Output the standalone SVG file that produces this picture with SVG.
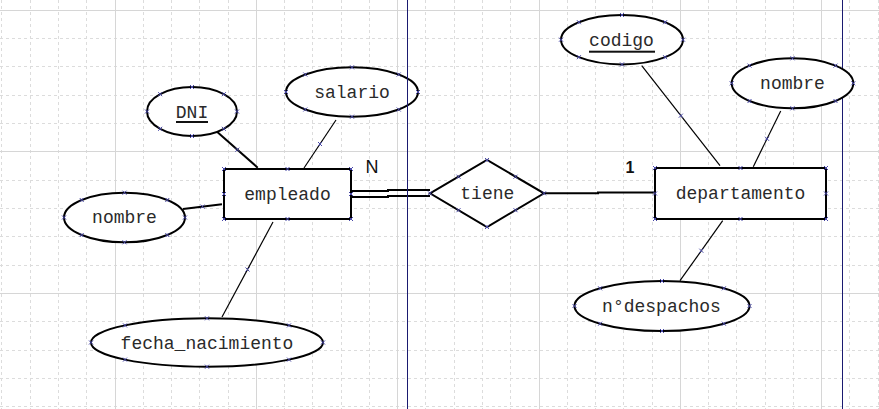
<svg xmlns="http://www.w3.org/2000/svg" xmlns:xlink="http://www.w3.org/1999/xlink" width="879" height="409" viewBox="0 0 879 409">
<style>
.minor{stroke:#dcdcdc;stroke-width:1;stroke-dasharray:3 3;fill:none}
.major{stroke:#d6d6d6;stroke-width:1;fill:none}
.sep{stroke:#1a1a70;stroke-width:1}
.shape{fill:#fff;stroke:#000;stroke-width:2}
.thin{stroke:#000;stroke-width:1.2;fill:none}
.thick{stroke:#000;stroke-width:2;fill:none}
.lbl{font-family:"Liberation Mono","Courier New",monospace;font-size:18px;fill:#2a2a2a;text-anchor:middle}
.card{font-family:"Liberation Sans",Arial,sans-serif;fill:#111;text-anchor:middle}
.ul{fill:#111}
.xm{stroke:#4848a8;stroke-width:1;fill:none}
</style>
<defs>
<path id="xm" class="xm" d="M-2,-2L2,2M-2,2L2,-2"/>
</defs>
<rect width="879" height="409" fill="#fff"/>
<g id="grid">
<path class="minor" d="M1.5,0V409M30.5,0V409M58.5,0V409M86.5,0V409M143.5,0V409M171.5,0V409M199.5,0V409M228.5,0V409M284.5,0V409M312.5,0V409M341.5,0V409M369.5,0V409M425.5,0V409M454.5,0V409M482.5,0V409M510.5,0V409M567.5,0V409M595.5,0V409M623.5,0V409M652.5,0V409M708.5,0V409M736.5,0V409M765.5,0V409M793.5,0V409M849.5,0V409M878.5,0V409M0,38.5H879M0,66.5H879M0,95.5H879M0,123.5H879M0,180.5H879M0,208.5H879M0,236.5H879M0,265.5H879M0,321.5H879M0,350.5H879M0,378.5H879M0,406.5H879"/>
<path class="major" d="M115.5,0V409M256.5,0V409M397.5,0V409M539.5,0V409M680.5,0V409M821.5,0V409M0,10.5H879M0,151.5H879M0,293.5H879"/>
</g>
<line id="sep-right" class="sep" x1="842.5" y1="0" x2="842.5" y2="409"/>
<g id="connectors">
<line class="thick" x1="217" y1="131.7" x2="257.7" y2="167.7"/>
<line class="thin" x1="336" y1="120" x2="304" y2="168"/>
<line class="thick" x1="183" y1="209" x2="222" y2="204.3"/>
<line class="thin" x1="222" y1="317" x2="273" y2="222"/>
<polyline class="thick" points="351,191 388,191 388,190 430,190"/>
<polyline class="thick" points="351,197 388,197 388,196 430,196"/>
<polyline class="thick" points="544,193.3 598,193.3 598,192.5 655,192.5"/>
<line class="thin" x1="641.7" y1="65.7" x2="720" y2="165.7"/>
<line class="thin" x1="780.7" y1="111" x2="753.3" y2="166.7"/>
<line class="thin" x1="680" y1="280.7" x2="722.7" y2="220.7"/>
<text class="card" x="372" y="173.3" font-size="18">N</text>
<text class="card" x="630" y="173" font-size="16" font-weight="bold">1</text>
<use href="#xm" x="237.3" y="149.7"/><use href="#xm" x="320" y="144"/><use href="#xm" x="202.5" y="206.6"/><use href="#xm" x="247.5" y="269.5"/><use href="#xm" x="680.8" y="115.7"/><use href="#xm" x="767" y="138.8"/><use href="#xm" x="701.3" y="250.7"/>
</g>
<g id="empleado">
<rect class="shape" x="224" y="169" width="127" height="50"/>
<text class="lbl" x="287.5" y="199.5">empleado</text>
<use href="#xm" x="224" y="169"/><use href="#xm" x="287.5" y="169"/><use href="#xm" x="351" y="169"/><use href="#xm" x="224" y="194"/><use href="#xm" x="351" y="194"/><use href="#xm" x="224" y="219"/><use href="#xm" x="287.5" y="219"/><use href="#xm" x="351" y="219"/>
</g>
<g id="dni">
<ellipse class="shape" cx="192" cy="111.5" rx="45" ry="24.5"/>
<text class="lbl" x="192" y="117.5">DNI</text>
<rect class="ul" x="176" y="121" width="32" height="2"/>
<use href="#xm" x="147" y="111.5"/><use href="#xm" x="237" y="111.5"/><use href="#xm" x="192" y="87"/><use href="#xm" x="192" y="136"/><use href="#xm" x="160.2" y="94.2"/><use href="#xm" x="223.8" y="94.2"/><use href="#xm" x="160.2" y="128.8"/><use href="#xm" x="223.8" y="128.8"/>
</g>
<g id="salario">
<ellipse class="shape" cx="352" cy="92" rx="66" ry="24.7"/>
<text class="lbl" x="352" y="97.5">salario</text>
<use href="#xm" x="286" y="92"/><use href="#xm" x="418" y="92"/><use href="#xm" x="352" y="67.3"/><use href="#xm" x="352" y="116.7"/><use href="#xm" x="305.3" y="74.5"/><use href="#xm" x="398.7" y="74.5"/><use href="#xm" x="305.3" y="109.5"/><use href="#xm" x="398.7" y="109.5"/>
</g>
<g id="nombre-empleado">
<ellipse class="shape" cx="124.5" cy="217.5" rx="60.5" ry="24.8"/>
<text class="lbl" x="124.5" y="222.5">nombre</text>
<use href="#xm" x="64" y="217.5"/><use href="#xm" x="185" y="217.5"/><use href="#xm" x="124.5" y="192.7"/><use href="#xm" x="124.5" y="242.3"/><use href="#xm" x="81.7" y="200"/><use href="#xm" x="167.3" y="200"/><use href="#xm" x="81.7" y="235"/><use href="#xm" x="167.3" y="235"/>
</g>
<g id="fecha_nacimiento">
<ellipse class="shape" cx="207" cy="342.5" rx="116" ry="24.2"/>
<text class="lbl" x="207" y="348.5">fecha_nacimiento</text>
<use href="#xm" x="91" y="342.5"/><use href="#xm" x="323" y="342.5"/><use href="#xm" x="207" y="318.3"/><use href="#xm" x="207" y="366.7"/><use href="#xm" x="125" y="325.4"/><use href="#xm" x="289" y="325.4"/><use href="#xm" x="125" y="359.6"/><use href="#xm" x="289" y="359.6"/>
</g>
<g id="tiene">
<polygon class="shape" points="430,193.3 487,160 544,193.3 487,227"/>
<text class="lbl" x="487.3" y="198.5">tiene</text>
<use href="#xm" x="430" y="193.3"/><use href="#xm" x="487" y="160"/><use href="#xm" x="544" y="193.3"/><use href="#xm" x="487" y="227"/><use href="#xm" x="458.5" y="176.7"/><use href="#xm" x="515.5" y="176.7"/><use href="#xm" x="458.5" y="210.2"/><use href="#xm" x="515.5" y="210.2"/>
</g>
<g id="departamento">
<rect class="shape" x="655" y="168" width="171" height="51"/>
<text class="lbl" x="740.5" y="198.5">departamento</text>
<use href="#xm" x="655" y="168"/><use href="#xm" x="740.5" y="168"/><use href="#xm" x="826" y="168"/><use href="#xm" x="655" y="193.5"/><use href="#xm" x="826" y="193.5"/><use href="#xm" x="655" y="219"/><use href="#xm" x="740.5" y="219"/><use href="#xm" x="826" y="219"/>
</g>
<g id="codigo">
<ellipse class="shape" cx="622" cy="39.7" rx="61" ry="24.7"/>
<text class="lbl" x="621.5" y="46">codigo</text>
<rect class="ul" x="589" y="50.7" width="66" height="2"/>
<use href="#xm" x="561" y="39.7"/><use href="#xm" x="683" y="39.7"/><use href="#xm" x="622" y="15"/><use href="#xm" x="622" y="64.4"/><use href="#xm" x="578.9" y="22.2"/><use href="#xm" x="665.1" y="22.2"/><use href="#xm" x="578.9" y="57.2"/><use href="#xm" x="665.1" y="57.2"/>
</g>
<g id="nombre-departamento">
<ellipse class="shape" cx="792.5" cy="83.3" rx="60.8" ry="25"/>
<text class="lbl" x="792.5" y="88.5">nombre</text>
<use href="#xm" x="731.7" y="83.3"/><use href="#xm" x="853.3" y="83.3"/><use href="#xm" x="792.5" y="58.3"/><use href="#xm" x="792.5" y="108.3"/><use href="#xm" x="749.5" y="65.6"/><use href="#xm" x="835.5" y="65.6"/><use href="#xm" x="749.5" y="101"/><use href="#xm" x="835.5" y="101"/>
</g>
<g id="despachos">
<ellipse class="shape" cx="662" cy="306" rx="87.5" ry="25"/>
<text class="lbl" x="661.5" y="311.5">n°despachos</text>
<use href="#xm" x="574.5" y="306"/><use href="#xm" x="749.5" y="306"/><use href="#xm" x="662" y="281"/><use href="#xm" x="662" y="331"/><use href="#xm" x="600.1" y="288.3"/><use href="#xm" x="723.9" y="288.3"/><use href="#xm" x="600.1" y="323.7"/><use href="#xm" x="723.9" y="323.7"/>
</g>
<line id="sep-left" class="sep" x1="407.5" y1="0" x2="407.5" y2="409"/>
</svg>
